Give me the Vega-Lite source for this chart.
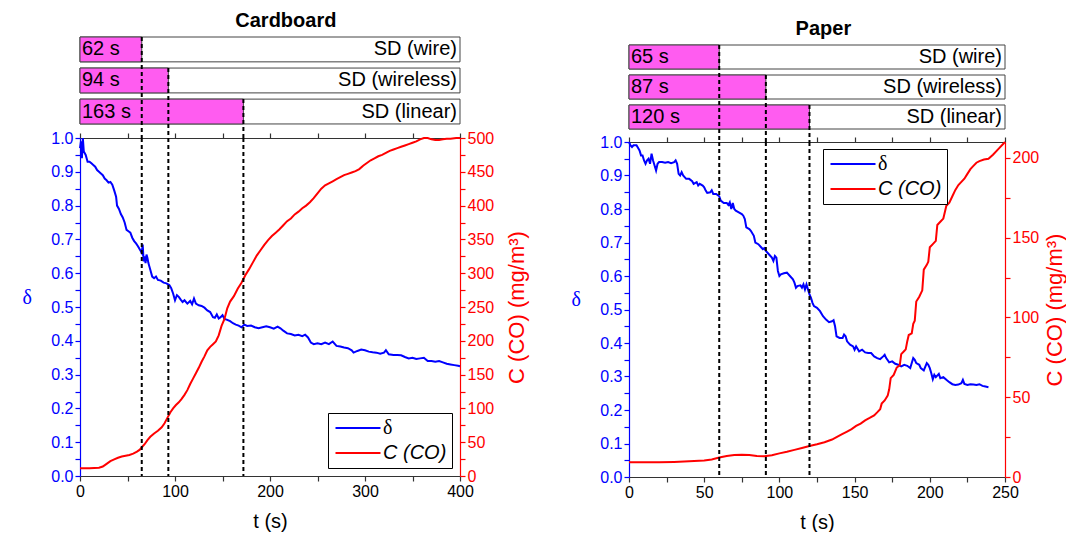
{
  "$schema": "https://vega.github.io/schema/vega-lite/v6.json",
  "padding": {"left": 22, "top": 11, "right": 0, "bottom": 0},
  "config": {
    "font": "Liberation Sans",
    "view": {"stroke": null},
    "axis": {"labelFontSize": 16, "titleFontSize": 20, "titleFontWeight": "normal", "grid": false, "tickSize": 5, "labelPadding": 2, "labelOverlap": false, "labelFlush": false, "labelFont": "Liberation Sans", "titleFont": "Liberation Sans", "domainWidth": 1.2, "tickWidth": 1.2},
    "title": {"fontSize": 20, "fontWeight": "bold", "font": "Liberation Sans", "anchor": "middle"},
    "legend": {"labelFontSize": 20, "symbolType": "M-1,0H5", "symbolSize": 225, "symbolStrokeWidth": 2, "strokeColor": "black", "fillColor": "white", "padding": 5, "rowPadding": 5, "labelOffset": 30, "labelFont": "Liberation Sans"}
  },
  "datasets": {
    "cb_sd": [
      {"row": "SD (wire)", "t": 65, "label": "62 s"},
      {"row": "SD (wireless)", "t": 93, "label": "94 s"},
      {"row": "SD (linear)", "t": 172, "label": "163 s"}
    ],
    "pp_sd": [
      {"row": "SD (wire)", "t": 60, "label": "65 s"},
      {"row": "SD (wireless)", "t": 91, "label": "87 s"},
      {"row": "SD (linear)", "t": 120, "label": "120 s"}
    ],
    "cb_delta": [
      {"t":0,"v":0.97},{"t":1,"v":0.99},{"t":2,"v":0.94},{"t":3,"v":1.0},{"t":4,"v":0.96},{"t":6,"v":0.95},{"t":8,"v":0.93},{"t":10,"v":0.93},{"t":12,"v":0.925},{"t":14,"v":0.92},{"t":16,"v":0.915},{"t":18,"v":0.905},{"t":20,"v":0.9},{"t":22,"v":0.895},{"t":24,"v":0.89},{"t":26,"v":0.88},{"t":28,"v":0.875},{"t":30,"v":0.868},{"t":32,"v":0.87},{"t":34,"v":0.862},{"t":36,"v":0.845},{"t":38,"v":0.826},{"t":39,"v":0.8},{"t":41,"v":0.79},{"t":43,"v":0.775},{"t":45,"v":0.765},{"t":47,"v":0.75},{"t":49,"v":0.728},{"t":51,"v":0.724},{"t":53,"v":0.72},{"t":55,"v":0.705},{"t":57,"v":0.695},{"t":59,"v":0.688},{"t":61,"v":0.68},{"t":63,"v":0.67},{"t":65,"v":0.66},{"t":66,"v":0.685},{"t":67,"v":0.635},{"t":68,"v":0.65},{"t":69,"v":0.63},{"t":70,"v":0.655},{"t":71,"v":0.645},{"t":72,"v":0.63},{"t":74,"v":0.61},{"t":76,"v":0.59},{"t":78,"v":0.585},{"t":80,"v":0.59},{"t":82,"v":0.58},{"t":85,"v":0.578},{"t":88,"v":0.572},{"t":91,"v":0.57},{"t":94,"v":0.565},{"t":96,"v":0.556},{"t":98,"v":0.54},{"t":100,"v":0.52},{"t":102,"v":0.535},{"t":104,"v":0.53},{"t":106,"v":0.522},{"t":108,"v":0.515},{"t":110,"v":0.52},{"t":113,"v":0.51},{"t":116,"v":0.518},{"t":118,"v":0.508},{"t":120,"v":0.525},{"t":122,"v":0.51},{"t":125,"v":0.505},{"t":128,"v":0.503},{"t":131,"v":0.498},{"t":134,"v":0.49},{"t":137,"v":0.485},{"t":140,"v":0.47},{"t":142,"v":0.468},{"t":144,"v":0.478},{"t":146,"v":0.466},{"t":148,"v":0.47},{"t":150,"v":0.476},{"t":152,"v":0.465},{"t":155,"v":0.462},{"t":158,"v":0.458},{"t":161,"v":0.452},{"t":164,"v":0.448},{"t":167,"v":0.445},{"t":170,"v":0.44},{"t":173,"v":0.448},{"t":176,"v":0.444},{"t":180,"v":0.445},{"t":184,"v":0.44},{"t":188,"v":0.437},{"t":192,"v":0.44},{"t":196,"v":0.443},{"t":200,"v":0.44},{"t":204,"v":0.436},{"t":208,"v":0.442},{"t":211,"v":0.437},{"t":214,"v":0.43},{"t":218,"v":0.422},{"t":222,"v":0.42},{"t":226,"v":0.416},{"t":230,"v":0.418},{"t":234,"v":0.414},{"t":237,"v":0.418},{"t":240,"v":0.41},{"t":243,"v":0.395},{"t":246,"v":0.39},{"t":250,"v":0.393},{"t":254,"v":0.39},{"t":258,"v":0.395},{"t":262,"v":0.39},{"t":266,"v":0.398},{"t":270,"v":0.385},{"t":274,"v":0.383},{"t":278,"v":0.38},{"t":282,"v":0.378},{"t":286,"v":0.372},{"t":288,"v":0.365},{"t":292,"v":0.37},{"t":296,"v":0.374},{"t":300,"v":0.372},{"t":304,"v":0.368},{"t":308,"v":0.366},{"t":312,"v":0.365},{"t":316,"v":0.362},{"t":320,"v":0.365},{"t":322,"v":0.372},{"t":325,"v":0.36},{"t":330,"v":0.358},{"t":334,"v":0.358},{"t":338,"v":0.357},{"t":342,"v":0.352},{"t":346,"v":0.348},{"t":350,"v":0.35},{"t":354,"v":0.346},{"t":358,"v":0.348},{"t":362,"v":0.35},{"t":366,"v":0.34},{"t":370,"v":0.34},{"t":374,"v":0.338},{"t":378,"v":0.34},{"t":382,"v":0.336},{"t":386,"v":0.332},{"t":390,"v":0.33},{"t":394,"v":0.328},{"t":398,"v":0.326},{"t":400,"v":0.325}
    ],
    "cb_co": [
      {"t":0,"v":11.3},{"t":10,"v":11.5},{"t":20,"v":12.3},{"t":24,"v":14},{"t":28,"v":18},{"t":32,"v":22},{"t":36,"v":24.6},{"t":40,"v":27},{"t":44,"v":28.8},{"t":48,"v":30},{"t":52,"v":31.2},{"t":56,"v":33},{"t":60,"v":36},{"t":63,"v":39},{"t":66,"v":44},{"t":68,"v":47},{"t":71,"v":53},{"t":74,"v":58},{"t":78,"v":63},{"t":82,"v":67},{"t":86,"v":72},{"t":89,"v":78},{"t":92,"v":86},{"t":95,"v":94},{"t":98,"v":100},{"t":101,"v":105},{"t":104,"v":109},{"t":107,"v":114},{"t":110,"v":120},{"t":113,"v":127},{"t":116,"v":136},{"t":119,"v":144},{"t":122,"v":152},{"t":125,"v":160},{"t":128,"v":169},{"t":131,"v":177},{"t":134,"v":186},{"t":137,"v":191},{"t":140,"v":195},{"t":143,"v":199},{"t":146,"v":208},{"t":149,"v":222},{"t":152,"v":232},{"t":155,"v":248},{"t":158,"v":258},{"t":162,"v":266},{"t":166,"v":277},{"t":170,"v":286},{"t":174,"v":297},{"t":178,"v":306},{"t":182,"v":316},{"t":186,"v":326},{"t":190,"v":334},{"t":194,"v":342},{"t":198,"v":349},{"t":202,"v":355},{"t":206,"v":360},{"t":210,"v":365},{"t":214,"v":371},{"t":218,"v":377},{"t":222,"v":381},{"t":226,"v":387},{"t":230,"v":391},{"t":234,"v":396},{"t":238,"v":400},{"t":242,"v":405},{"t":246,"v":411},{"t":250,"v":418},{"t":254,"v":425},{"t":258,"v":430},{"t":262,"v":433},{"t":266,"v":436},{"t":270,"v":439},{"t":274,"v":442},{"t":278,"v":445},{"t":282,"v":447},{"t":286,"v":449},{"t":290,"v":451},{"t":294,"v":454},{"t":298,"v":459},{"t":302,"v":463},{"t":306,"v":467},{"t":310,"v":470},{"t":314,"v":473},{"t":318,"v":475},{"t":322,"v":478},{"t":326,"v":481},{"t":330,"v":483},{"t":334,"v":485},{"t":338,"v":487},{"t":342,"v":489},{"t":346,"v":491},{"t":350,"v":493},{"t":354,"v":495},{"t":358,"v":498},{"t":362,"v":500},{"t":366,"v":500},{"t":370,"v":498},{"t":374,"v":497},{"t":378,"v":497},{"t":382,"v":498},{"t":386,"v":499},{"t":390,"v":499},{"t":396,"v":500},{"t":400,"v":500}
    ],
    "pp_delta": [
      {"t":0,"v":1.0},{"t":1,"v":0.99},{"t":2,"v":0.985},{"t":3,"v":0.99},{"t":5,"v":0.99},{"t":7,"v":0.975},{"t":8,"v":0.96},{"t":9,"v":0.96},{"t":10,"v":0.945},{"t":11,"v":0.935},{"t":12,"v":0.945},{"t":13,"v":0.95},{"t":14,"v":0.935},{"t":15,"v":0.965},{"t":16,"v":0.945},{"t":17,"v":0.93},{"t":18,"v":0.915},{"t":19,"v":0.935},{"t":20,"v":0.94},{"t":22,"v":0.94},{"t":24,"v":0.938},{"t":26,"v":0.94},{"t":28,"v":0.937},{"t":30,"v":0.94},{"t":31,"v":0.945},{"t":32,"v":0.935},{"t":33,"v":0.905},{"t":34,"v":0.9},{"t":35,"v":0.91},{"t":36,"v":0.9},{"t":38,"v":0.89},{"t":40,"v":0.89},{"t":42,"v":0.883},{"t":43,"v":0.875},{"t":45,"v":0.88},{"t":46,"v":0.87},{"t":47,"v":0.875},{"t":49,"v":0.87},{"t":50,"v":0.865},{"t":51,"v":0.855},{"t":52,"v":0.848},{"t":54,"v":0.85},{"t":55,"v":0.856},{"t":56,"v":0.845},{"t":58,"v":0.845},{"t":60,"v":0.838},{"t":61,"v":0.825},{"t":63,"v":0.818},{"t":65,"v":0.818},{"t":66,"v":0.812},{"t":67,"v":0.82},{"t":68,"v":0.8},{"t":69,"v":0.818},{"t":70,"v":0.8},{"t":71,"v":0.795},{"t":73,"v":0.79},{"t":75,"v":0.785},{"t":76,"v":0.78},{"t":77,"v":0.77},{"t":78,"v":0.745},{"t":80,"v":0.74},{"t":81,"v":0.735},{"t":83,"v":0.72},{"t":84,"v":0.7},{"t":86,"v":0.695},{"t":88,"v":0.685},{"t":89,"v":0.68},{"t":90,"v":0.683},{"t":91,"v":0.675},{"t":93,"v":0.665},{"t":95,"v":0.655},{"t":96,"v":0.645},{"t":97,"v":0.66},{"t":98,"v":0.655},{"t":99,"v":0.615},{"t":100,"v":0.6},{"t":101,"v":0.605},{"t":103,"v":0.608},{"t":105,"v":0.61},{"t":107,"v":0.6},{"t":109,"v":0.59},{"t":110,"v":0.58},{"t":111,"v":0.565},{"t":112,"v":0.57},{"t":114,"v":0.572},{"t":115,"v":0.565},{"t":116,"v":0.575},{"t":117,"v":0.56},{"t":118,"v":0.575},{"t":119,"v":0.56},{"t":120,"v":0.545},{"t":121,"v":0.535},{"t":122,"v":0.52},{"t":123,"v":0.51},{"t":125,"v":0.505},{"t":127,"v":0.495},{"t":129,"v":0.48},{"t":131,"v":0.47},{"t":133,"v":0.462},{"t":135,"v":0.465},{"t":136,"v":0.468},{"t":137,"v":0.45},{"t":138,"v":0.42},{"t":140,"v":0.415},{"t":142,"v":0.415},{"t":143,"v":0.425},{"t":144,"v":0.42},{"t":145,"v":0.405},{"t":147,"v":0.395},{"t":149,"v":0.39},{"t":150,"v":0.38},{"t":151,"v":0.39},{"t":153,"v":0.375},{"t":155,"v":0.38},{"t":157,"v":0.372},{"t":159,"v":0.37},{"t":161,"v":0.37},{"t":163,"v":0.36},{"t":165,"v":0.355},{"t":167,"v":0.352},{"t":169,"v":0.36},{"t":170,"v":0.365},{"t":171,"v":0.355},{"t":173,"v":0.342},{"t":175,"v":0.345},{"t":177,"v":0.338},{"t":179,"v":0.335},{"t":181,"v":0.33},{"t":183,"v":0.335},{"t":185,"v":0.332},{"t":187,"v":0.325},{"t":189,"v":0.355},{"t":190,"v":0.35},{"t":191,"v":0.34},{"t":193,"v":0.335},{"t":194,"v":0.325},{"t":196,"v":0.318},{"t":198,"v":0.34},{"t":199,"v":0.335},{"t":200,"v":0.325},{"t":201,"v":0.31},{"t":202,"v":0.292},{"t":203,"v":0.305},{"t":204,"v":0.298},{"t":206,"v":0.308},{"t":207,"v":0.295},{"t":209,"v":0.298},{"t":211,"v":0.29},{"t":213,"v":0.283},{"t":215,"v":0.277},{"t":217,"v":0.275},{"t":219,"v":0.276},{"t":221,"v":0.28},{"t":222,"v":0.29},{"t":223,"v":0.278},{"t":225,"v":0.275},{"t":227,"v":0.277},{"t":229,"v":0.276},{"t":231,"v":0.275},{"t":233,"v":0.277},{"t":235,"v":0.272},{"t":237,"v":0.27},{"t":239,"v":0.268}
    ],
    "pp_co": [
      {"t":0,"v":9.2},{"t":10,"v":9.2},{"t":20,"v":9.2},{"t":30,"v":9.4},{"t":40,"v":9.8},{"t":50,"v":10.4},{"t":55,"v":11},{"t":60,"v":12.2},{"t":65,"v":13.2},{"t":70,"v":13.8},{"t":75,"v":14},{"t":80,"v":13.8},{"t":85,"v":13.2},{"t":90,"v":13},{"t":95,"v":13.6},{"t":100,"v":14.8},{"t":105,"v":15.8},{"t":110,"v":17},{"t":115,"v":18.2},{"t":120,"v":19.4},{"t":125,"v":20.5},{"t":130,"v":21.8},{"t":135,"v":23.5},{"t":138,"v":25},{"t":142,"v":27},{"t":145,"v":28.5},{"t":148,"v":30},{"t":151,"v":32},{"t":154,"v":33.5},{"t":157,"v":35.5},{"t":160,"v":37},{"t":163,"v":38.6},{"t":165,"v":40.5},{"t":167,"v":42.5},{"t":168,"v":46},{"t":170,"v":48},{"t":172,"v":51},{"t":173,"v":55},{"t":174,"v":62},{"t":176,"v":64},{"t":178,"v":68.6},{"t":180,"v":70},{"t":181,"v":77},{"t":183,"v":79},{"t":184,"v":80},{"t":185,"v":85},{"t":186,"v":89},{"t":188,"v":90},{"t":189,"v":96},{"t":190,"v":98},{"t":191,"v":110},{"t":193,"v":113},{"t":195,"v":117},{"t":196,"v":130},{"t":198,"v":133},{"t":199,"v":135},{"t":200,"v":144},{"t":202,"v":146},{"t":204,"v":148},{"t":205,"v":158},{"t":207,"v":160},{"t":209,"v":162},{"t":211,"v":170},{"t":213,"v":172},{"t":215,"v":176},{"t":217,"v":180},{"t":219,"v":183},{"t":221,"v":185},{"t":223,"v":187},{"t":225,"v":190},{"t":227,"v":193},{"t":229,"v":195},{"t":231,"v":197},{"t":233,"v":198},{"t":236,"v":199},{"t":239,"v":199.5},{"t":242,"v":202},{"t":246,"v":206},{"t":250,"v":210}
    ]
  },
  "resolve": {"scale": {"color": "independent"}, "legend": {"color": "independent"}},
  "spacing": 43,
  "hconcat": [
    {
      "title": {"text": "Cardboard", "offset": 5, "dx": 11},
      "spacing": 0,
      "bounds": "flush",
      "resolve": {"scale": {"color": "independent"}, "legend": {"color": "independent"}},
      "vconcat": [
        {
          "width": 380, "height": 101,
          "data": {"name": "cb_sd"},
          "encoding": {
            "y": {"field": "row", "type": "nominal", "sort": null, "axis": null, "scale": {"domain": ["SD (wire)", "SD (wireless)", "SD (linear)"], "paddingInner": 0.2, "paddingOuter": 0.226, "align": 0}}
          },
          "layer": [
            {"mark": {"type": "bar", "fill": "white", "stroke": "#444", "strokeWidth": 1}, "encoding": {"x": {"datum": 0, "type": "quantitative", "scale": {"domain": [0, 400], "nice": false}, "axis": null}, "x2": {"datum": 400}}},
            {"mark": {"type": "bar", "fill": "#ff5cf0", "stroke": "#444", "strokeWidth": 1}, "encoding": {"x": {"field": "t", "type": "quantitative", "axis": null}}},
            {"mark": {"type": "text", "align": "left", "baseline": "middle", "dx": 2, "fontSize": 20}, "encoding": {"x": {"datum": 0, "type": "quantitative"}, "text": {"field": "label"}}},
            {"mark": {"type": "text", "align": "right", "baseline": "middle", "dx": -3, "fontSize": 20}, "encoding": {"x": {"datum": 400, "type": "quantitative"}, "text": {"field": "row"}}},
            {"mark": {"type": "rule", "orient": "vertical", "y2": "height", "strokeDash": [4, 3], "strokeWidth": 2, "color": "black"}, "encoding": {"x": {"field": "t", "type": "quantitative"}, "y": {"field": "row", "type": "nominal", "bandPosition": 0}}}
          ]
        },
        {
          "width": 380, "height": 338,
          "resolve": {"scale": {"y": "independent"}, "axis": {"x": "independent"}},
          "layer": [
            {
              "data": {"name": "cb_delta"},
              "mark": {"type": "line", "strokeWidth": 2},
              "encoding": {
                "x": {"field": "t", "type": "quantitative", "scale": {"domain": [0, 400], "nice": false},
                  "axis": {"title": "t (s)", "orient": "bottom", "values": [0,50,100,150,200,250,300,350,400], "labelExpr": "round(datum.value/50) % 2 ? '' : datum.label", "domainColor": "#333", "tickColor": "#333", "labelColor": "black", "titleColor": "black", "titlePadding": 12,
                    "encode": {"ticks": {"update": {"y2": {"signal": "round(datum.value/50) % 2 ? 3 : 5"}}}}}},
                "y": {"field": "v", "type": "quantitative", "scale": {"domain": [0, 1], "nice": false},
                  "axis": {"title": "δ", "titleAngle": 0, "titleFont": "Liberation Serif", "values": [0,0.05,0.1,0.15,0.2,0.25,0.3,0.35,0.4,0.45,0.5,0.55,0.6,0.65,0.7,0.75,0.8,0.85,0.9,0.95,1.0], "labelExpr": "round(datum.value*20) % 2 ? '' : format(datum.value, '.1f')", "domainColor": "#0000ff", "tickColor": "#0000ff", "labelColor": "#0000ff", "titleColor": "#0000ff", "titlePadding": 24,
                    "encode": {"ticks": {"update": {"x2": {"signal": "round(datum.value*20) % 2 ? -3 : -5"}}}}}},
                "color": {"datum": "δ", "scale": {"domain": ["δ", "C (CO)"], "range": ["#0000ff", "#ff0000"]},
                  "legend": {"title": null, "orient": "bottom-right", "offset": 8,
                    "encode": {"labels": {"update": {"fontStyle": {"signal": "datum.label === 'δ' ? 'normal' : 'italic'"}, "font": {"signal": "datum.label === 'δ' ? 'Liberation Serif' : 'Liberation Sans'"}}}}}}
              }
            },
            {
              "data": {"name": "cb_co"},
              "mark": {"type": "line", "strokeWidth": 2},
              "encoding": {
                "x": {"field": "t", "type": "quantitative",
                  "axis": {"orient": "top", "labels": false, "title": null, "values": [0,50,100,150,200,250,300,350,400], "domainColor": "#333", "tickColor": "#333",
                    "encode": {"ticks": {"update": {"y2": {"signal": "round(datum.value/50) % 2 ? -3 : -5"}}}}}},
                "y": {"field": "v", "type": "quantitative", "scale": {"domain": [0, 500], "nice": false},
                  "axis": {"orient": "right", "title": "C (CO) (mg/m³)", "titleFontSize": 22, "titleAngle": 270, "titleBaseline": "top", "values": [0,25,50,75,100,125,150,175,200,225,250,275,300,325,350,375,400,425,450,475,500], "labelExpr": "round(datum.value/25) % 2 ? '' : datum.label", "domainColor": "#ff0000", "tickColor": "#ff0000", "labelColor": "#ff0000", "titleColor": "#ff0000", "titlePadding": 13,
                    "encode": {"ticks": {"update": {"x2": {"signal": "round(datum.value/25) % 2 ? 3 : 5"}}}}}},
                "color": {"datum": "C (CO)"}
              }
            },
            {
              "data": {"name": "cb_sd"},
              "mark": {"type": "rule", "strokeDash": [4, 3], "strokeWidth": 2, "color": "black"},
              "encoding": {"x": {"field": "t", "type": "quantitative", "axis": null}}
            }
          ]
        }
      ]
    },
    {
      "title": {"text": "Paper", "offset": 5, "dx": 5, "dy": 7},
      "spacing": 0,
      "bounds": "flush",
      "resolve": {"scale": {"color": "independent"}, "legend": {"color": "independent"}},
      "vconcat": [
        {
          "width": 376, "height": 105,
          "data": {"name": "pp_sd"},
          "encoding": {
            "y": {"field": "row", "type": "nominal", "sort": null, "axis": null, "scale": {"domain": ["SD (wire)", "SD (wireless)", "SD (linear)"], "paddingInner": 0.2, "paddingOuter": 0.35, "align": 0.381}}
          },
          "layer": [
            {"mark": {"type": "bar", "fill": "white", "stroke": "#444", "strokeWidth": 1}, "encoding": {"x": {"datum": 0, "type": "quantitative", "scale": {"domain": [0, 250], "nice": false}, "axis": null}, "x2": {"datum": 250}}},
            {"mark": {"type": "bar", "fill": "#ff5cf0", "stroke": "#444", "strokeWidth": 1}, "encoding": {"x": {"field": "t", "type": "quantitative", "axis": null}}},
            {"mark": {"type": "text", "align": "left", "baseline": "middle", "dx": 2, "fontSize": 20}, "encoding": {"x": {"datum": 0, "type": "quantitative"}, "text": {"field": "label"}}},
            {"mark": {"type": "text", "align": "right", "baseline": "middle", "dx": -3, "fontSize": 20}, "encoding": {"x": {"datum": 250, "type": "quantitative"}, "text": {"field": "row"}}},
            {"mark": {"type": "rule", "orient": "vertical", "y2": "height", "strokeDash": [4, 3], "strokeWidth": 2, "color": "black"}, "encoding": {"x": {"field": "t", "type": "quantitative"}, "y": {"field": "row", "type": "nominal", "bandPosition": 0}}}
          ]
        },
        {
          "width": 376, "height": 335,
          "resolve": {"scale": {"y": "independent"}, "axis": {"x": "independent"}},
          "layer": [
            {
              "data": {"name": "pp_delta"},
              "mark": {"type": "line", "strokeWidth": 2},
              "encoding": {
                "x": {"field": "t", "type": "quantitative", "scale": {"domain": [0, 250], "nice": false},
                  "axis": {"title": "t (s)", "orient": "bottom", "values": [0,25,50,75,100,125,150,175,200,225,250], "labelExpr": "round(datum.value/25) % 2 ? '' : datum.label", "domainColor": "#333", "tickColor": "#333", "labelColor": "black", "titleColor": "black", "titlePadding": 12,
                    "encode": {"ticks": {"update": {"y2": {"signal": "round(datum.value/25) % 2 ? 3 : 5"}}}}}},
                "y": {"field": "v", "type": "quantitative", "scale": {"domain": [0, 1], "nice": false},
                  "axis": {"title": "δ", "titleAngle": 0, "titleFont": "Liberation Serif", "values": [0,0.05,0.1,0.15,0.2,0.25,0.3,0.35,0.4,0.45,0.5,0.55,0.6,0.65,0.7,0.75,0.8,0.85,0.9,0.95,1.0], "labelExpr": "round(datum.value*20) % 2 ? '' : format(datum.value, '.1f')", "domainColor": "#0000ff", "tickColor": "#0000ff", "labelColor": "#0000ff", "titleColor": "#0000ff", "titlePadding": 24,
                    "encode": {"ticks": {"update": {"x2": {"signal": "round(datum.value*20) % 2 ? -3 : -5"}}}}}},
                "color": {"datum": "δ", "scale": {"domain": ["δ", "C (CO)"], "range": ["#0000ff", "#ff0000"]},
                  "legend": {"title": null, "orient": "none", "legendX": 194, "legendY": 7,
                    "encode": {"labels": {"update": {"fontStyle": {"signal": "datum.label === 'δ' ? 'normal' : 'italic'"}, "font": {"signal": "datum.label === 'δ' ? 'Liberation Serif' : 'Liberation Sans'"}}}}}}
              }
            },
            {
              "data": {"name": "pp_co"},
              "mark": {"type": "line", "strokeWidth": 2},
              "encoding": {
                "x": {"field": "t", "type": "quantitative",
                  "axis": {"orient": "top", "labels": false, "title": null, "values": [0,25,50,75,100,125,150,175,200,225,250], "domainColor": "#333", "tickColor": "#333",
                    "encode": {"ticks": {"update": {"y2": {"signal": "round(datum.value/25) % 2 ? -3 : -5"}}}}}},
                "y": {"field": "v", "type": "quantitative", "scale": {"domain": [0, 210], "nice": false},
                  "axis": {"orient": "right", "title": "C (CO) (mg/m³)", "titleFontSize": 22, "titleAngle": 270, "titleBaseline": "top", "values": [0,25,50,75,100,125,150,175,200], "labelExpr": "round(datum.value/25) % 2 ? '' : datum.label", "domainColor": "#ff0000", "tickColor": "#ff0000", "labelColor": "#ff0000", "titleColor": "#ff0000", "titlePadding": 6,
                    "encode": {"ticks": {"update": {"x2": {"signal": "round(datum.value/25) % 2 ? 3 : 5"}}}}}},
                "color": {"datum": "C (CO)"}
              }
            },
            {
              "data": {"name": "pp_sd"},
              "mark": {"type": "rule", "strokeDash": [4, 3], "strokeWidth": 2, "color": "black"},
              "encoding": {"x": {"field": "t", "type": "quantitative", "axis": null}}
            }
          ]
        }
      ]
    }
  ]
}
